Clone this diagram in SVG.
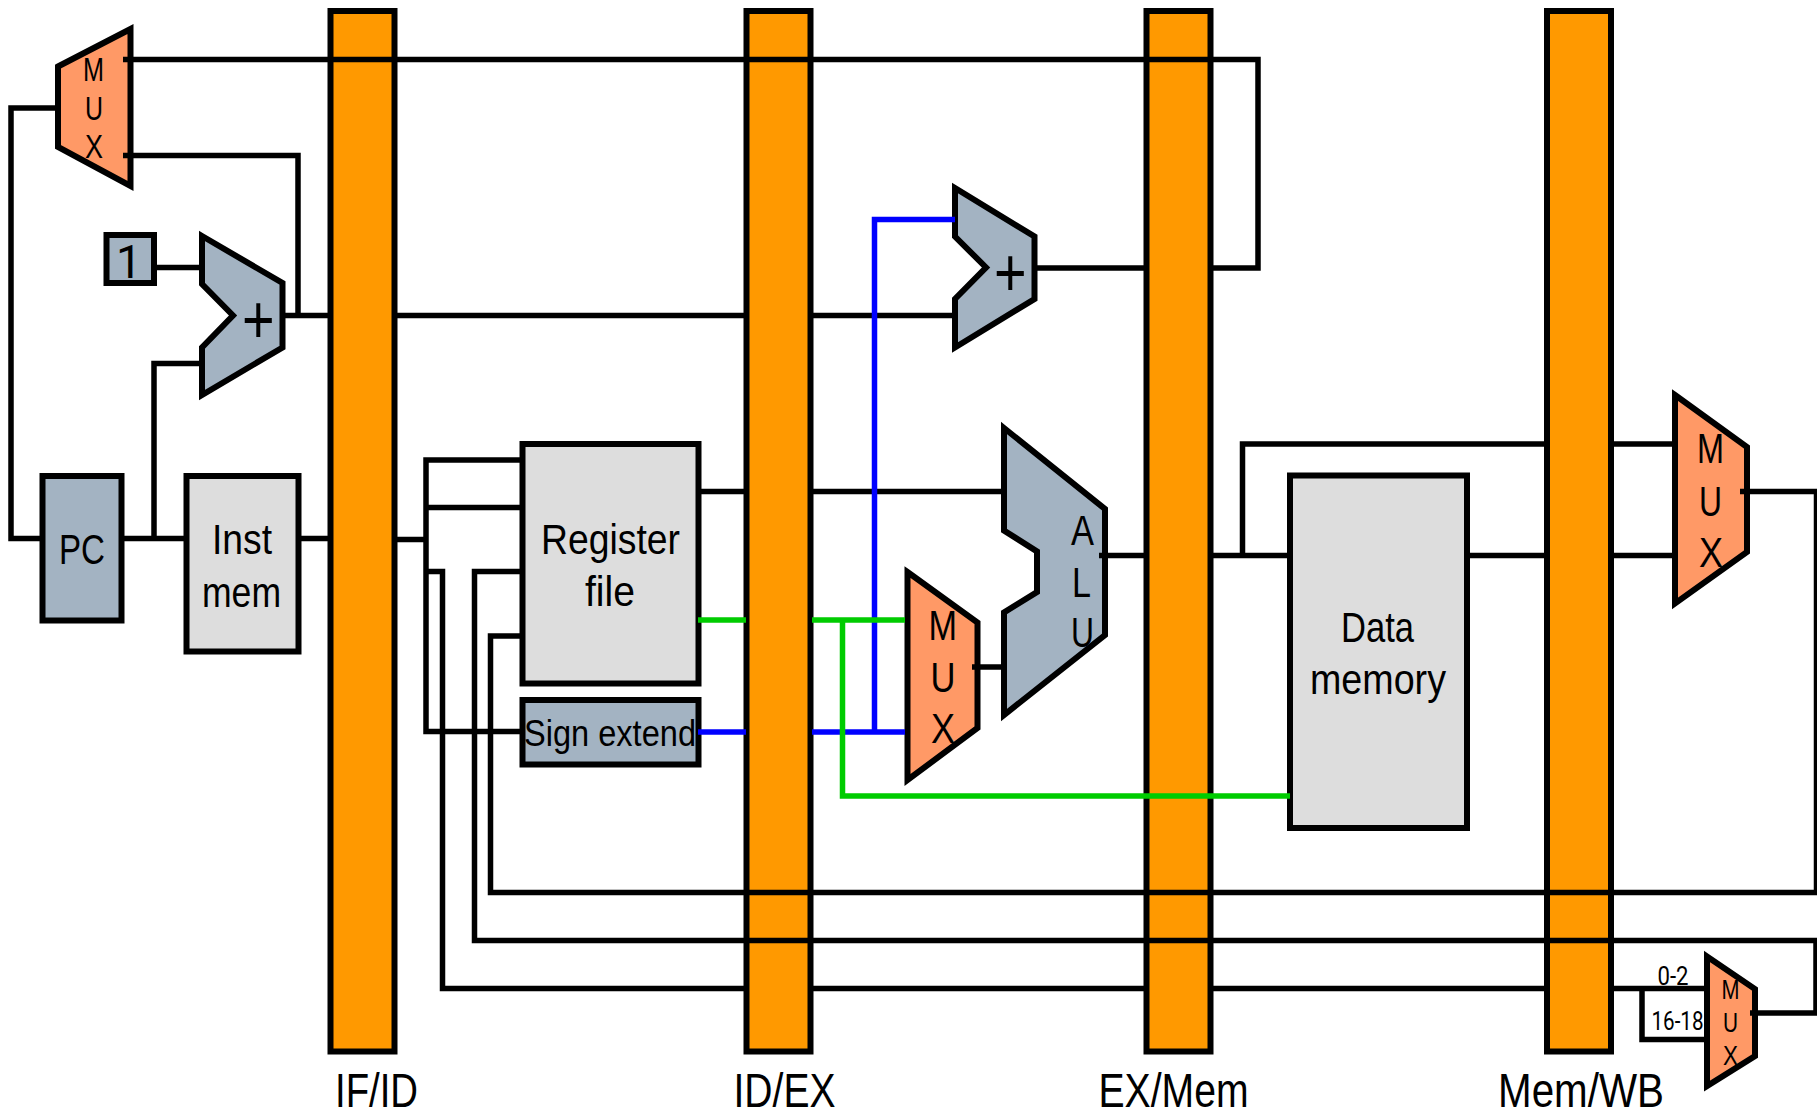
<svg xmlns="http://www.w3.org/2000/svg" width="1817" height="1112" viewBox="0 0 1817 1112">
<style>
.s{stroke:#000;stroke-width:6;stroke-linejoin:miter}
.bar{fill:#FF9900}.mem{fill:#DDDDDD}.sl{fill:#A3B3C2}.mx{fill:#FF9966}
text{font-family:"Liberation Sans",Arial,sans-serif;fill:#000}
text.d{font-family:Roboto,"Liberation Sans",sans-serif}
.f43{font-size:43px}.f36{font-size:36px}.f33{font-size:33px}.f27{font-size:27px}.f25{font-size:25px}.f48{font-size:48px}.f68{font-size:68px}.f46{font-size:46px}
#conn{transform:translateY(.5px)}
#conn path{fill:none;stroke:#000;stroke-width:5.5;stroke-linejoin:miter}
#conn path.g{stroke:#00CC00}#conn path.b{stroke:#0000FF}
</style>
<rect width="1817" height="1112" fill="#fff"/>
<g id="if-id"><rect class="s bar" x="330.5" y="11" width="64" height="1040.5"/><text class="f48" x="335" y="1107" textLength="83" lengthAdjust="spacingAndGlyphs">IF/ID</text></g>
<g id="id-ex"><rect class="s bar" x="746.5" y="11" width="64" height="1040.5"/><text class="f48" x="733.5" y="1107" textLength="102" lengthAdjust="spacingAndGlyphs">ID/EX</text></g>
<g id="ex-mem"><rect class="s bar" x="1146.5" y="11" width="64" height="1040.5"/><text class="f48" x="1098.5" y="1107" textLength="150" lengthAdjust="spacingAndGlyphs">EX/Mem</text></g>
<g id="mem-wb"><rect class="s bar" x="1547" y="11" width="64" height="1040.5"/><text class="f48" x="1498" y="1107" textLength="166" lengthAdjust="spacingAndGlyphs">Mem/WB</text></g>

<g id="mux-pc"><polygon class="s mx" points="58,66.5 130.5,29 130.5,186 58,147"/>
<text class="f33" x="83" y="81" textLength="21" lengthAdjust="spacingAndGlyphs">M</text><text class="f33" x="85" y="120" textLength="18" lengthAdjust="spacingAndGlyphs">U</text><text class="f33" x="85" y="158" textLength="18" lengthAdjust="spacingAndGlyphs">X</text></g>
<g id="const-1"><rect class="s sl" x="106.5" y="235" width="47.5" height="48"/><text class="d f46" x="116" y="278">1</text></g>
<g id="adder-pc"><polygon class="s sl" points="202,236 282.5,283 282.5,347.5 202,395 202,347.5 233,315.5 202,284"/><text class="f68" x="242" y="343" textLength="32.6" lengthAdjust="spacingAndGlyphs">+</text></g>
<g id="pc"><rect class="s sl" x="42.5" y="476" width="79" height="144.5"/><text class="f43" x="59" y="564" textLength="46" lengthAdjust="spacingAndGlyphs">PC</text></g>
<g id="inst-mem"><rect class="s mem" x="186.5" y="476" width="112" height="175.5"/><text class="f43" x="212" y="554" textLength="60" lengthAdjust="spacingAndGlyphs">Inst</text><text class="f43" x="202" y="606.5" textLength="79" lengthAdjust="spacingAndGlyphs">mem</text></g>
<g id="register-file"><rect class="s mem" x="522.5" y="444" width="176" height="239.5"/><text class="f43" x="541" y="553.5" textLength="139" lengthAdjust="spacingAndGlyphs">Register</text><text class="f43" x="585" y="605.5" textLength="50" lengthAdjust="spacingAndGlyphs">file</text></g>
<g id="sign-extend"><rect class="s sl" x="522.5" y="700" width="176" height="64.5"/><text class="f36" x="524" y="746" textLength="172" lengthAdjust="spacingAndGlyphs">Sign extend</text></g>
<g id="adder-branch"><polygon class="s sl" points="955,188 1034.5,236.5 1034.5,299 955,347.5 955,299 986,267.5 955,236.5"/><text class="f68" x="994" y="296" textLength="32.6" lengthAdjust="spacingAndGlyphs">+</text></g>
<g id="mux-alu"><polygon class="s mx" points="907.5,572 977.5,622.5 977.5,728 907.5,780"/><text class="f43" x="928.5" y="640" textLength="28.5" lengthAdjust="spacingAndGlyphs">M</text><text class="f43" x="930.5" y="692" textLength="25" lengthAdjust="spacingAndGlyphs">U</text><text class="f43" x="931" y="743" textLength="24" lengthAdjust="spacingAndGlyphs">X</text></g>
<g id="alu"><polygon class="s sl" points="1004,428 1105,509 1105,635 1004,715 1004,612.5 1037,592 1037,551.5 1004,530.5"/><text class="f43" x="1071" y="545" textLength="23" lengthAdjust="spacingAndGlyphs">A</text><text class="f43" x="1072" y="597" textLength="19" lengthAdjust="spacingAndGlyphs">L</text><text class="f43" x="1071" y="647" textLength="23" lengthAdjust="spacingAndGlyphs">U</text></g>
<g id="data-memory"><rect class="s mem" x="1290" y="475.5" width="177" height="352.5"/><text class="f43" x="1341" y="642" textLength="73" lengthAdjust="spacingAndGlyphs">Data</text><text class="f43" x="1310" y="693.5" textLength="136" lengthAdjust="spacingAndGlyphs">memory</text></g>
<g id="mux-wb"><polygon class="s mx" points="1675,395 1747,447 1747,552 1675,603.5"/><text class="f43" x="1697" y="463" textLength="27" lengthAdjust="spacingAndGlyphs">M</text><text class="f43" x="1699" y="516" textLength="23" lengthAdjust="spacingAndGlyphs">U</text><text class="f43" x="1699" y="567" textLength="24" lengthAdjust="spacingAndGlyphs">X</text></g>
<g id="mux-reg"><polygon class="s mx" points="1707,956.5 1755,989 1755,1056 1707,1086"/><text class="f27" x="1721.5" y="999" textLength="18" lengthAdjust="spacingAndGlyphs">M</text><text class="f27" x="1723" y="1032" textLength="15" lengthAdjust="spacingAndGlyphs">U</text><text class="f27" x="1723" y="1065" textLength="15" lengthAdjust="spacingAndGlyphs">X</text></g>

<g id="conn">
<path d="M123,59H1258V267.5H1212M1146,267.5H1034.5"/>
<path d="M123,155H298V315"/>
<path d="M283,315H329M396,315H746M812,315H955"/>
<path d="M58,107.5H11V538H40"/>
<path d="M155,267H202"/>
<path d="M124,538H184M154,538V363H202M300,538H329"/>
<path d="M396,539H426M522,459.5H426V731H522M426,507H522"/>
<path d="M426,571H442.5V988H746M812,988H1146M1212,988H1547M1612,988H1707"/>
<path d="M522,571H474.5V940H1817"/>
<path d="M522,635.5H490.5V892H1817"/>
<path d="M700,491H746M812,491H1004"/>
<path d="M972,666.5H1004"/>
<path d="M1099,555H1146M1212,555H1290M1467,555H1547M1612,555H1675"/>
<path d="M1242.5,555V443.5H1547M1612,443.5H1675"/>
<path d="M1740,491H1816.5V892"/>
<path d="M1642,989V1039H1707"/>
<path d="M1750,1012.5H1816V940"/>
<path class="b" d="M698,731.5H746M812,731.5H905M874.5,731.5V219H955"/>
<path class="g" d="M698,619.5H746M812,619.5H905M842.5,619.5V795.5H1290"/>
</g>
<g id="bit-labels"><text class="d f25" x="1657.5" y="985" textLength="31" lengthAdjust="spacingAndGlyphs">0-2</text><text class="d f25" x="1651.5" y="1030" textLength="52" lengthAdjust="spacingAndGlyphs">16-18</text></g>
</svg>
